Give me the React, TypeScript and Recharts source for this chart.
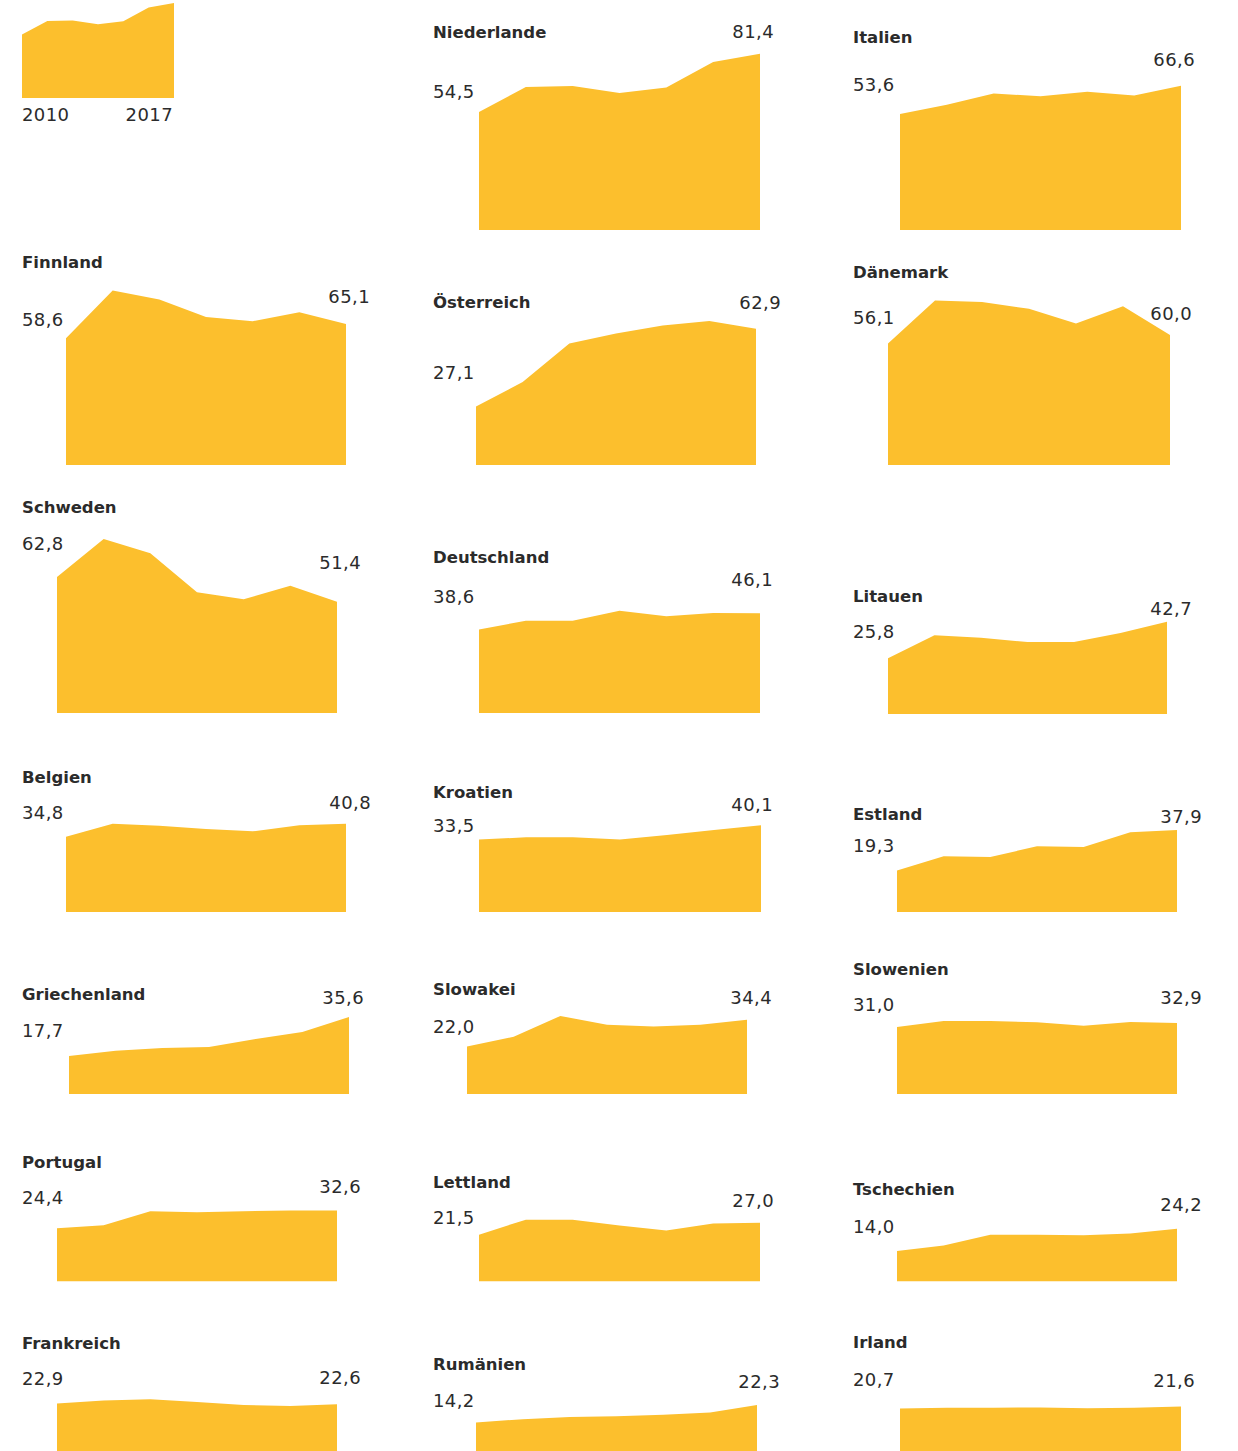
import { AreaChart, Area, XAxis, YAxis } from 'recharts';

const YEARS = ['2010', '2011', '2012', '2013', '2014', '2015', '2017'];

// one series per country, first and last value are the printed labels
const niederlande = [54.5, 66.0, 66.5, 63.3, 65.8, 77.6, 81.4];
const italien = [53.6, 57.9, 63.0, 61.8, 63.8, 62.1, 66.6];
const finnland = [58.6, 80.6, 76.4, 68.3, 66.4, 70.5, 65.1];
const oesterreich = [27.1, 38.4, 56.1, 60.7, 64.4, 66.5, 62.9];
const daenemark = [56.1, 75.9, 75.3, 72.1, 65.3, 73.3, 60.0];
const schweden = [62.8, 80.3, 73.7, 55.8, 52.5, 58.8, 51.4];
const deutschland = [38.6, 42.7, 42.7, 47.3, 44.7, 46.2, 46.1];
const litauen = [25.8, 36.4, 35.3, 33.3, 33.3, 37.5, 42.7];
const belgien = [34.8, 40.8, 39.9, 38.4, 37.3, 40.1, 40.8];
const kroatien = [33.5, 34.6, 34.6, 33.6, 35.6, 37.9, 40.1];
const estland = [19.3, 25.8, 25.5, 30.4, 30.1, 36.9, 37.9];
const griechenland = [17.7, 20.1, 21.3, 21.8, 25.5, 28.7, 35.6];
const slowakei = [22.0, 26.5, 36.1, 32.1, 31.3, 32.1, 34.4];
const slowenien = [31.0, 33.8, 33.8, 33.2, 31.6, 33.3, 32.9];
const portugal = [24.4, 25.8, 32.3, 31.8, 32.3, 32.6, 32.6];
const lettland = [21.5, 28.4, 28.4, 25.7, 23.4, 26.6, 27.0];
const tschechien = [14.0, 16.5, 21.5, 21.4, 21.2, 22.0, 24.2];
const frankreich = [22.9, 24.3, 24.9, 23.6, 22.3, 21.8, 22.6];
const rumaenien = [14.2, 15.7, 16.7, 17.1, 17.8, 18.8, 22.3];
const irland = [20.7, 21.0, 21.0, 21.1, 20.8, 21.0, 21.6];

const FILL = '#fcbf2d';
const INK = '#2b2b2b';
const FONT = '"DejaVu Sans", "Noto Sans", sans-serif';
const Y_MAX = 90;
const PX_PER_UNIT = 2.17;
const COL_X = [22, 433, 853];

type Panel = {
  name: string;
  values: number[];
  col: number;
  x0: number;
  x1: number;
  base: number;
  titleY: number;
  startY: number;
  endY: number;
  endRight: number;
};

const PANELS: Panel[] = [
  { name: 'Niederlande', values: niederlande, col: 1, x0: 479, x1: 760, base: 230, titleY: 33, startY: 91.5, endY: 32, endRight: 774 },
  { name: 'Italien', values: italien, col: 2, x0: 900, x1: 1181, base: 230.5, titleY: 38, startY: 85, endY: 60, endRight: 1195 },
  { name: 'Finnland', values: finnland, col: 0, x0: 66, x1: 346, base: 465, titleY: 263, startY: 320, endY: 297, endRight: 370 },
  { name: 'Österreich', values: oesterreich, col: 1, x0: 476, x1: 756, base: 465.5, titleY: 302.5, startY: 373, endY: 302.5, endRight: 781 },
  { name: 'Dänemark', values: daenemark, col: 2, x0: 888, x1: 1170, base: 465.5, titleY: 272.5, startY: 317.5, endY: 314, endRight: 1192 },
  { name: 'Schweden', values: schweden, col: 0, x0: 57, x1: 337, base: 713.3, titleY: 508, startY: 544, endY: 562.5, endRight: 361 },
  { name: 'Deutschland', values: deutschland, col: 1, x0: 479, x1: 760, base: 713.3, titleY: 557.5, startY: 596.5, endY: 580, endRight: 773 },
  { name: 'Litauen', values: litauen, col: 2, x0: 888, x1: 1167, base: 714, titleY: 596.5, startY: 632, endY: 609, endRight: 1192 },
  { name: 'Belgien', values: belgien, col: 0, x0: 66, x1: 346, base: 912.3, titleY: 777.5, startY: 813, endY: 802.5, endRight: 371 },
  { name: 'Kroatien', values: kroatien, col: 1, x0: 479, x1: 761, base: 912.3, titleY: 793, startY: 826, endY: 805, endRight: 773 },
  { name: 'Estland', values: estland, col: 2, x0: 897, x1: 1177, base: 912.3, titleY: 815, startY: 845.5, endY: 817, endRight: 1202 },
  { name: 'Griechenland', values: griechenland, col: 0, x0: 69, x1: 349, base: 1094.3, titleY: 995, startY: 1031, endY: 997.5, endRight: 364 },
  { name: 'Slowakei', values: slowakei, col: 1, x0: 467, x1: 747, base: 1094.3, titleY: 990, startY: 1026.5, endY: 997.5, endRight: 772 },
  { name: 'Slowenien', values: slowenien, col: 2, x0: 897, x1: 1177, base: 1094.3, titleY: 969.5, startY: 1005, endY: 997.5, endRight: 1202 },
  { name: 'Portugal', values: portugal, col: 0, x0: 57, x1: 337, base: 1281.7, titleY: 1163, startY: 1198, endY: 1186.5, endRight: 361 },
  { name: 'Lettland', values: lettland, col: 1, x0: 479, x1: 760, base: 1281.7, titleY: 1183, startY: 1217.5, endY: 1200.5, endRight: 774 },
  { name: 'Tschechien', values: tschechien, col: 2, x0: 897, x1: 1177, base: 1281.7, titleY: 1190, startY: 1226.5, endY: 1204.5, endRight: 1202 },
  { name: 'Frankreich', values: frankreich, col: 0, x0: 57, x1: 337, base: 1453, titleY: 1343.5, startY: 1378.5, endY: 1377.5, endRight: 361 },
  { name: 'Rumänien', values: rumaenien, col: 1, x0: 476, x1: 757, base: 1453, titleY: 1365, startY: 1400.5, endY: 1382, endRight: 780 },
  { name: 'Irland', values: irland, col: 2, x0: 900, x1: 1181, base: 1453, titleY: 1343, startY: 1379.5, endY: 1380.5, endRight: 1195 },
];

const fmt = (v: number) => v.toFixed(1).replace('.', ',');

function Spark({ values, x0, x1, base, scale }: { values: number[]; x0: number; x1: number; base: number; scale: number }) {
  const height = Y_MAX * scale;
  const rows = YEARS.map((year, i) => ({ year, value: values[i] }));
  return (
    <div style={{ position: 'absolute', left: x0, top: base - height }}>
      <AreaChart width={x1 - x0} height={height} data={rows} margin={{ top: 0, right: 0, bottom: 0, left: 0 }}>
        <XAxis dataKey="year" hide />
        <YAxis domain={[0, Y_MAX]} hide />
        <Area type="linear" dataKey="value" stroke="none" fill={FILL} fillOpacity={1} isAnimationActive={false} />
      </AreaChart>
    </div>
  );
}

function Txt({ y, left, right, bold, children }: { y: number; left?: number; right?: number; bold?: boolean; children: React.ReactNode }) {
  const style: React.CSSProperties = {
    position: 'absolute',
    top: y - 10,
    lineHeight: '20px',
    fontFamily: FONT,
    fontSize: bold ? 16.5 : 18,
    fontWeight: bold ? 700 : 400,
    letterSpacing: bold ? 0 : 0.4,
    color: INK,
    whiteSpace: 'nowrap',
  };
  if (right !== undefined) {
    return <div style={{ ...style, left: right - 120, width: 120, textAlign: 'right' }}>{children}</div>;
  }
  return <div style={{ ...style, left }}>{children}</div>;
}

export default function App() {
  return (
    <div style={{ position: 'absolute', left: 0, top: 0, width: 1238, height: 1451, overflow: 'hidden', background: '#fff' }}>
      {/* key panel: same shape as Niederlande, smaller */}
      <Spark values={niederlande} x0={22} x1={174} base={98} scale={PX_PER_UNIT * 0.54} />
      <Txt y={115} left={22}>{YEARS[0]}</Txt>
      <Txt y={115} right={173}>{YEARS[YEARS.length - 1]}</Txt>

      {PANELS.map(p => (
        <div key={p.name}>
          <Spark values={p.values} x0={p.x0} x1={p.x1} base={p.base} scale={PX_PER_UNIT} />
          <Txt y={p.titleY} left={COL_X[p.col]} bold>{p.name}</Txt>
          <Txt y={p.startY} left={COL_X[p.col]}>{fmt(p.values[0])}</Txt>
          <Txt y={p.endY} right={p.endRight}>{fmt(p.values[p.values.length - 1])}</Txt>
        </div>
      ))}
    </div>
  );
}
